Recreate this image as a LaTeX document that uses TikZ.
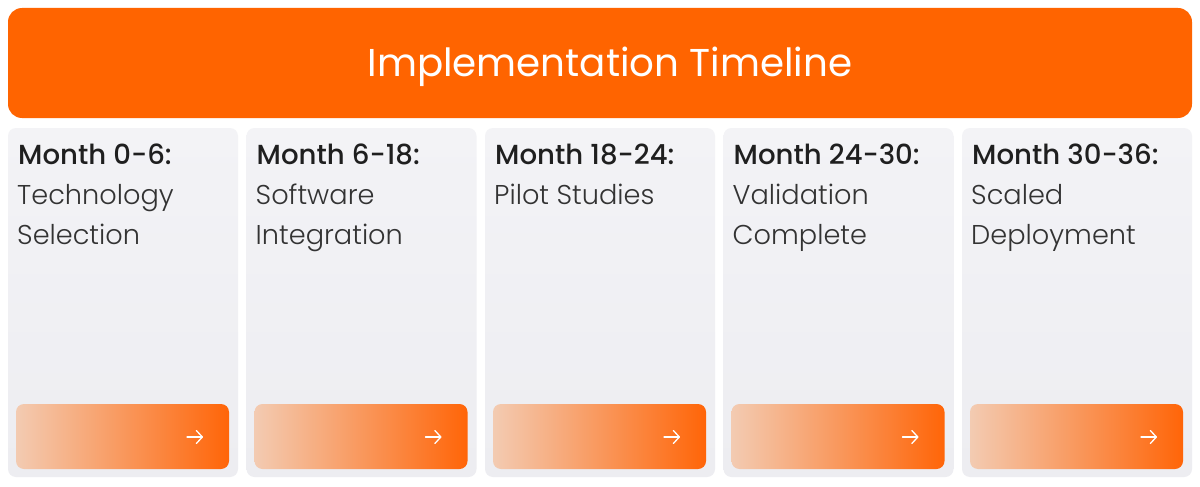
\documentclass[tikz,border=0pt]{standalone}
\usepackage{fontspec}
\setmainfont{Poppins}
\newfontfamily\headf{Poppins Medium}
\newfontfamily\lightf{Poppins Light}
\usetikzlibrary{shadings,arrows.meta}
\definecolor{brand}{HTML}{FF6400}
\definecolor{cardtop}{HTML}{F3F3F6}
\definecolor{cardbot}{HTML}{EDEDF1}
\definecolor{btnlight}{HTML}{F3CBB2}
\definecolor{btndark}{HTML}{FF6508}
\tikzset{
  banner/.style={fill=brand, rounded corners=14pt},
  cardbox/.style={top color=cardtop, bottom color=cardbot, rounded corners=8pt},
  btnbox/.style={left color=btnlight, right color=btndark, rounded corners=8pt},
  headtxt/.style={anchor=base west, inner sep=0pt, font=\headf\fontsize{27.6}{27.6}\selectfont, text=black!88},
  desctxt/.style={anchor=base west, inner sep=0pt, font=\lightf\fontsize{27.2}{27.2}\selectfont, text=black!80},
  arrowline/.style={draw=white, line width=1.3pt, line cap=round, -{Straight Barb[length=6pt,width=13pt,line width=1.3pt,round]}}
}
\begin{document}
\begin{tikzpicture}[x=1pt,y=-1pt]
\useasboundingbox (0,0) rectangle (1200,487);
\fill[white] (0,0) rectangle (1200,487);
\path[banner] (8,8) rectangle (1192,118);
\node[anchor=base, inner sep=0pt, text=white, font=\fontsize{38.8}{38.8}\selectfont] (title) at (610,77) {Implementation Timeline};
\foreach \i/\h/\a/\b in {0/{Month 0-6:}/Technology/Selection,
                         1/{Month 6-18:}/Software/Integration,
                         2/{Month 18-24:}/{Pilot Studies}/{},
                         3/{Month 24-30:}/Validation/Complete,
                         4/{Month 30-36:}/Scaled/Deployment}{
  \pgfmathsetmacro{\xo}{8+238.5*\i}
  \path[cardbox] (\xo,128) rectangle ++(230,349);
  \coordinate (card\i) at (\xo,128);
  \node[headtxt] (head\i) at (\xo+10,164) {\h};
  \node[desctxt] (desca\i) at (\xo+9,204) {\a};
  \node[desctxt] (descb\i) at (\xo+9,244) {\b};
  \path[btnbox] (\xo+8,404) rectangle ++(213,65);
  \coordinate (arrs\i) at (\xo+179,437);
  \coordinate (arre\i) at (\xo+195,437);
  \draw[arrowline] (arrs\i) -- (arre\i);
}
\end{tikzpicture}
\end{document}
